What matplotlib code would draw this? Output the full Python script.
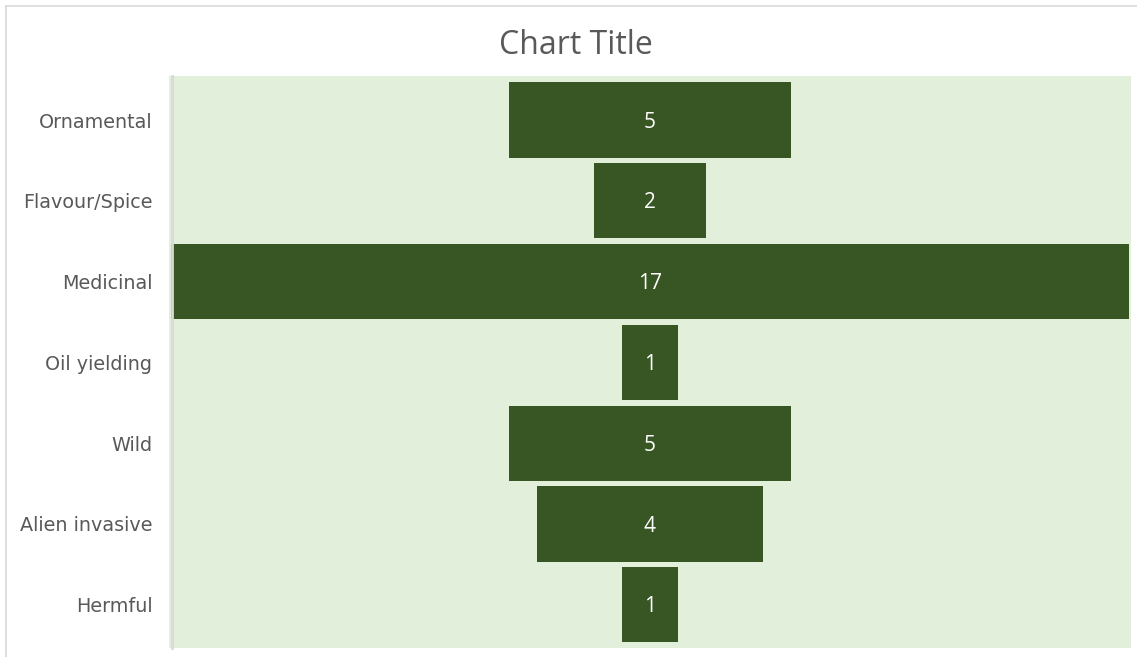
import matplotlib
matplotlib.use("Agg")
import matplotlib.pyplot as plt
from matplotlib.lines import Line2D

categories = ["Ornamental", "Flavour/Spice", "Medicinal", "Oil yielding", "Wild", "Alien invasive", "Hermful"]
values = [5, 2, 17, 1, 5, 4, 1]

W, H = 1137, 657
fig = plt.figure(figsize=(W / 100, H / 100), dpi=100)
fig.patch.set_facecolor("white")

x0, x1, y0, y1 = 169, 1131, 76, 648
ax = fig.add_axes([x0 / W, 1 - y1 / H, (x1 - x0) / W, (y1 - y0) / H])
ax.set_facecolor("#E2EFDA")

n = len(categories)
pos = list(range(n))
lefts = [-v / 2 for v in values]
ax.barh(pos, values, left=lefts, height=0.93, color="#375623", edgecolor="none")
for p, v in zip(pos, values):
    ax.text(0.0, p + 0.025, str(v), ha="center", va="center", color="white", fontsize=15, family="Open Sans")

ax.set_xlim(-8.54, 8.54)
ax.set_ylim(6.535, -0.545)
ax.set_yticks(pos)
ax.set_yticklabels(categories)
ax.tick_params(axis="y", length=0, pad=14, labelsize=13.8, labelcolor="#595959")
for lbl in ax.get_yticklabels():
    lbl.set_fontfamily("Open Sans")
ax.set_xticks([])
for s in ["top", "right", "bottom"]:
    ax.spines[s].set_visible(False)
ax.spines["left"].set_color("#D9D9D9")
ax.spines["left"].set_linewidth(2)
ax.spines["left"].set_position(("outward", -2))

fig.text(576 / W, 1 - 45 / H, "Chart Title", ha="center", va="center", fontsize=23, color="#595959", family="Open Sans")

fig.add_artist(Line2D([6 / W, 1], [1 - 6 / H, 1 - 6 / H], color="#D9D9D9", lw=1.2, transform=fig.transFigure))
fig.add_artist(Line2D([6 / W, 6 / W], [0, 1 - 6 / H], color="#D9D9D9", lw=1.2, transform=fig.transFigure))

fig.savefig("out.png", dpi=100)
